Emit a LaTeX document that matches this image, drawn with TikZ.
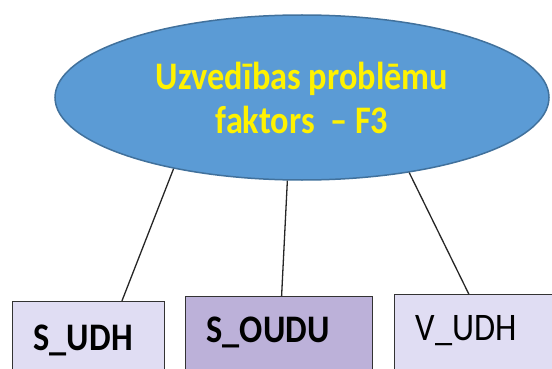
\documentclass[tikz,border=0pt]{standalone}
\usepackage{fontspec}
\setmainfont[FakeStretch=0.88]{Carlito}
\usetikzlibrary{shapes.geometric,calc}

\definecolor{ellfill}{HTML}{5B9BD5}
\definecolor{ellline}{HTML}{41719C}
\definecolor{lilac}{HTML}{E0DDF3}
\definecolor{lilacdark}{HTML}{BCB1D9}

\tikzset{
  factor/.style={ellipse, fill=ellfill, draw=ellline, line width=1.5pt,
    minimum width=494pt, minimum height=165pt, inner sep=0pt,
    align=center, text=yellow, font=\fontsize{39}{44}\selectfont\bfseries},
  var/.style={draw=black!80, line width=1.3pt, anchor=north west,
    inner xsep=21pt, inner ysep=0pt, text depth=90pt, align=left,
    font=\fontsize{39}{44}\selectfont},
  link/.style={draw=black!85, line width=1.3pt}
}

\begin{document}
\begin{tikzpicture}[x=1pt,y=-1pt]
  \useasboundingbox (0,0) rectangle (552,369);
  \clip (0,0) rectangle (552,369);

  \node[factor] (f3) at (302,97.5) {Uzvedības problēmu\\faktors~~– F3};

  % the three variables, cut off at the bottom
  \node[var, fill=lilac, text width=110pt, text height=49pt] (sudh) at (12,301) {\bfseries S\_UDH};
  \node[var, fill=lilacdark, text width=145pt, text height=46pt] (soudu) at (185,296) {\bfseries S\_OUDU};
  \node[var, fill=lilac, text width=140pt, text height=46pt] (vudh) at (394,294) {V\_UDH};

  \draw[link] (f3.209) -- ($(sudh.north west)!.717!(sudh.north east)$);
  \draw[link] (f3.260) -- ($(soudu.north west)!.513!(soudu.north east)$);
  \draw[link] (f3.325) -- ($(vudh.north west)!.408!(vudh.north east)$);
\end{tikzpicture}
\end{document}
